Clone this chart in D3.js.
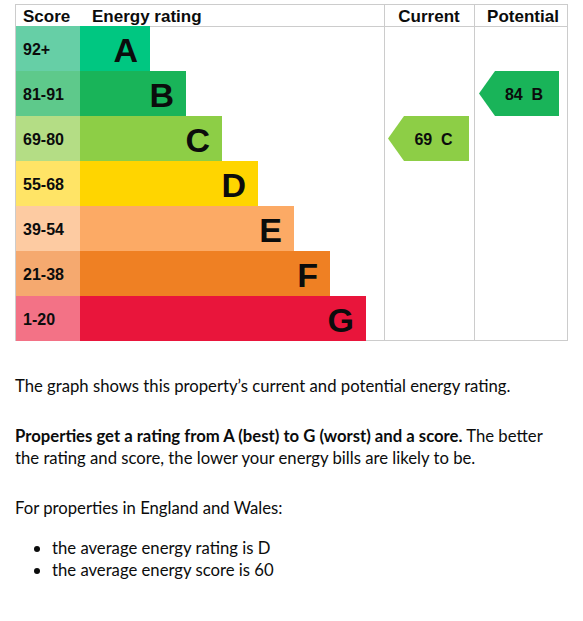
<!DOCTYPE html><html><head><meta charset="utf-8"><script src="https://cdn.jsdelivr.net/npm/d3@7"></script>
<style>body{margin:0;background:#fff}</style></head><body><svg id="c" width="583" height="621"></svg>
<script>
const bands=["A","B","C","D","E","F","G"];
const scores=["92+","81-91","69-80","55-68","39-54","21-38","1-20"];
const bandColors=["#00c781","#19b459","#8dce46","#ffd500","#fcaa65","#ef8023","#e9153b"];
const scoreColors=["#66cfa6","#5ec98b","#b4dd85","#ffe466","#fdcba2","#f5a96f","#f37286"];
const barLength=[1,2,3,4,5,6,7];
const current={score:69,band:"C"}, potential={score:84,band:"B"};
const svg=d3.select("#c");
const L=15,R=568,T=4,H=22,x1=80,cc=384,pc=474;
const y=d3.scaleBand().domain(bands).range([T+H,341]);
const xb=d3.scaleLinear().domain([1,7]).range([150,366]);
const g="Liberation Sans, Arial, sans-serif";
svg.append("rect").attr("x",L+.5).attr("y",T+.5).attr("width",R-L-1).attr("height",341-T-1).attr("fill","none").attr("stroke","#ccc");
svg.append("line").attr("x1",L).attr("x2",R).attr("y1",T+H+.5).attr("y2",T+H+.5).attr("stroke","#ccc");
[cc,pc].forEach(x=>svg.append("line").attr("x1",x+.5).attr("x2",x+.5).attr("y1",T).attr("y2",341).attr("stroke","#ccc"));
const hd=[["Score",23,"start"],["Energy rating",92,"start"],["Current",429,"middle"],["Potential",523,"middle"]];
hd.forEach(h=>svg.append("text").attr("x",h[1]).attr("y",22).attr("text-anchor",h[2]).attr("font-family",g).attr("font-weight","bold").attr("font-size",17).attr("fill","#0b0c0c").text(h[0]));
bands.forEach((b,i)=>{
 svg.append("rect").attr("x",L+1).attr("y",y(b)).attr("width",x1-L-1).attr("height",y.bandwidth()).attr("fill",scoreColors[i]);
 svg.append("rect").attr("x",x1).attr("y",y(b)).attr("width",xb(barLength[i])-x1).attr("height",y.bandwidth()).attr("fill",bandColors[i]);
 svg.append("text").attr("x",23).attr("y",y(b)+y.bandwidth()/2+6).attr("font-family",g).attr("font-weight","bold").attr("font-size",16).attr("fill","#0b0c0c").text(scores[i]);
 svg.append("text").attr("x",xb(barLength[i])-12).attr("y",y(b)+y.bandwidth()/2+13).attr("text-anchor","end").attr("font-family",g).attr("font-weight","bold").attr("font-size",34).attr("fill","#0b0c0c").text(b);
});
function arrow(r,x0,x2){
 const i=bands.indexOf(r.band),t=y(r.band),h=y.bandwidth(),m=t+h/2;
 svg.append("path").attr("d",`M${x0},${m}L${x0+16},${t}L${x2},${t}L${x2},${t+h}L${x0+16},${t+h}Z`).attr("fill",bandColors[i]);
 svg.append("text").attr("x",(x0+x2)/2+5).attr("y",m+6).attr("text-anchor","middle").attr("font-family",g).attr("font-weight","bold").attr("font-size",16).attr("fill","#0b0c0c").attr("xml:space","preserve").text(r.score+"  "+r.band);
}
arrow(current,388,469);arrow(potential,479,559);
const f="Lato, 'Open Sans', sans-serif";
function t(x,yy,s,bold){return svg.append("text").attr("x",x).attr("y",yy).attr("font-family",f).attr("font-size",16.7).attr("fill","#0b0c0c").attr("font-weight",bold?"bold":null).text(s);}
t(15,392,"The graph shows this property’s current and potential energy rating.");
const p=t(15,442,"");p.append("tspan").attr("font-weight","bold").text("Properties get a rating from A (best) to G (worst) and a score.");p.append("tspan").text(" The better");
t(15,464,"the rating and score, the lower your energy bills are likely to be.");
t(15,514,"For properties in England and Wales:");
[["the average energy rating is D",554],["the average energy score is 60",576]].forEach(d=>{svg.append("circle").attr("cx",37).attr("cy",d[1]-5).attr("r",3).attr("fill","#0b0c0c");t(52,d[1],d[0]);});
</script></body></html>
